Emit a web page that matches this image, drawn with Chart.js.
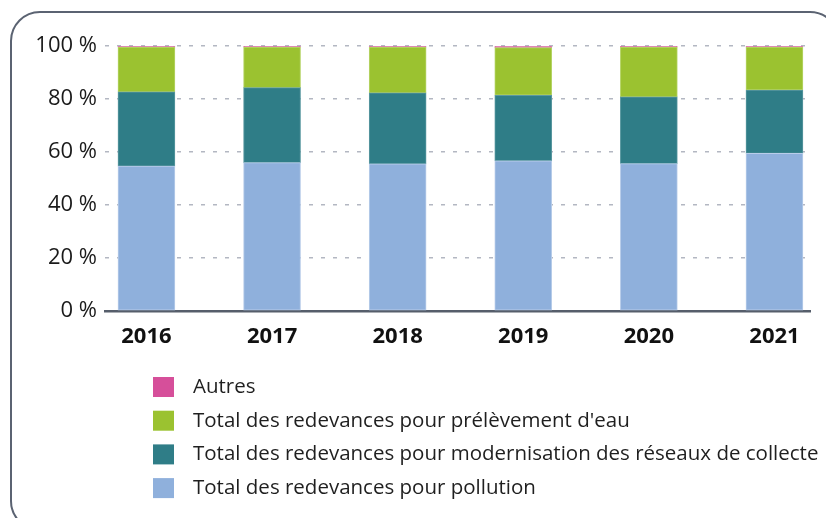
<!DOCTYPE html>
<html>
<head>
<meta charset="utf-8">
<script src="https://cdn.jsdelivr.net/npm/chart.js@4"></script>
<style>
  html, body { margin: 0; padding: 0; background: #fff; overflow: hidden; }
  #wrap { position: relative; width: 826px; height: 518px; }
  #frame { position: absolute; left: 10px; top: 11px; width: 830px; height: 520px;
           border: 2.5px solid #5b6372; border-radius: 30px; box-sizing: border-box; }
  canvas { position: absolute; left: 0; top: 0; }
</style>
</head>
<body>
<div id="wrap">
  <div id="frame"></div>
  <canvas id="c" width="826" height="518"></canvas>
</div>
<script>
const years = ['2016', '2017', '2018', '2019', '2020', '2021'];
const pollution     = [54.7, 56.0, 55.5, 56.7, 55.6, 59.5];
const modernisation = [28.0, 28.3, 26.8, 24.7, 25.2, 23.9];
const prelevement   = [16.9, 15.3, 17.3, 18.0, 18.8, 16.2];
const autres        = [0.4, 0.4, 0.4, 0.6, 0.4, 0.4];
const yTicks = [0, 20, 40, 60, 80, 100];

const seriesNames = [
  'Total des redevances pour pollution',
  'Total des redevances pour modernisation des réseaux de collecte',
  "Total des redevances pour prélèvement d'eau",
  'Autres'
];
const seriesColors = ['#8fb0dc', '#2f7d87', '#9bc230', '#d64f9a'];
const seriesBorders = ['#b9cdea', '#5b99a1', '#b7d569', '#e07db5'];
const seriesData = [pollution, modernisation, prelevement, autres];

const toPoints = arr => arr.map((v, i) => ({ x: i, y: v }));

const legendPlugin = {
  id: 'listLegend',
  afterDraw(chart) {
    const ctx = chart.ctx;
    ctx.save();
    ctx.font = '20.5px "Open Sans"';
    ctx.textBaseline = 'middle';
    const order = [3, 2, 1, 0];
    order.forEach((di, row) => {
      const cy = 387 + row * 33.7;
      ctx.fillStyle = seriesColors[di];
      ctx.fillRect(153, cy - 10, 21, 20);
      ctx.fillStyle = '#1f1f1f';
      ctx.fillText(seriesNames[di], 193, cy);
    });
    ctx.restore();
  }
};

new Chart(document.getElementById('c'), {
  type: 'bar',
  data: {
    datasets: seriesData.map((d, i) => ({
      label: seriesNames[i],
      data: toPoints(d),
      backgroundColor: seriesColors[i],
      borderColor: seriesBorders[i],
      borderWidth: 1,
      borderSkipped: false,
      barThickness: 57
    }))
  },
  options: {
    responsive: false,
    animation: false,
    layout: { padding: { left: 0, right: 16, top: 46, bottom: 167 } },
    plugins: { legend: { display: false }, tooltip: { enabled: false } },
    scales: {
      x: {
        type: 'linear',
        stacked: true,
        offset: false,
        min: -0.33,
        max: 5.283,
        afterFit(scale) { scale.height = 40; },
        afterBuildTicks(scale) {
          scale.ticks = years.map((y, i) => ({ value: i }));
        },
        ticks: {
          padding: 13,
          autoSkip: false,
          maxRotation: 0,
          color: '#111',
          font: { family: '"Open Sans"', size: 22, weight: 'bold' },
          callback: v => years[v] !== undefined ? years[v] : ''
        },
        grid: { display: false, drawTicks: false },
        border: { display: true, color: '#565e6b', width: 2.5 }
      },
      y: {
        stacked: true,
        min: 0,
        max: 100,
        afterFit(scale) { scale.width = 105; },
        afterBuildTicks(scale) {
          scale.ticks = yTicks.map(v => ({ value: v }));
        },
        ticks: {
          padding: 8,
          color: '#1a1a1a',
          font: { family: '"Open Sans"', size: 22 },
          callback: v => v + ' %'
        },
        grid: {
          color: '#b3b7c2',
          lineWidth: 1.5,
          drawTicks: false
        },
        border: { display: false, dash: [4, 8] }
      }
    }
  },
  plugins: [legendPlugin]
});
</script>
</body>
</html>
